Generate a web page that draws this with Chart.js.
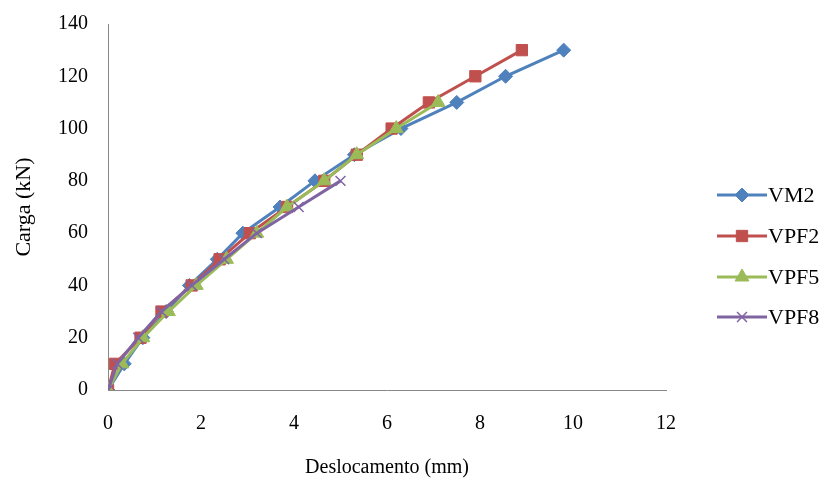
<!DOCTYPE html>
<html lang="pt">
<head>
  <meta charset="UTF-8">
  <title>Carga x Deslocamento</title>
  <script src="https://cdn.jsdelivr.net/npm/chart.js"></script>
  <style>
    body { margin: 0; background: #fff; }
    #chart { display: block; }
  </style>
</head>
<body>
  <canvas id="chart" width="831" height="490"></canvas>

  <script>
    // series data (deslocamento in mm, carga in kN)
    const seriesNames = ['VM2', 'VPF2', 'VPF5', 'VPF8'];

    const deslVM2 = [0, 0.35, 0.75, 1.25, 1.75, 2.35, 2.9, 3.7, 4.45, 5.3, 6.3, 7.5, 8.55, 9.8];
    const cargaVM2 = [0, 10, 20, 30, 40, 50, 60, 70, 80, 90, 100, 110, 120, 130];

    const deslVPF2 = [0, 0.15, 0.7, 1.15, 1.8, 2.4, 3.05, 3.85, 4.65, 5.35, 6.1, 6.9, 7.9, 8.9];
    const cargaVPF2 = [0, 10, 20, 30, 40, 50, 60, 70, 80, 90, 100, 110, 120, 130];

    const deslVPF5 = [0, 0.3, 0.75, 1.3, 1.9, 2.55, 3.2, 3.85, 4.65, 5.35, 6.2, 7.1];
    const cargaVPF5 = [0, 10, 20, 30, 40, 50, 60, 70, 80, 90, 100, 110];

    const deslVPF8 = [0, 0.2, 0.65, 1.15, 1.8, 2.5, 3.2, 4.1, 5.0];
    const cargaVPF8 = [0, 10, 20, 30, 40, 50, 60, 70, 80];

    const xTicks = [0, 2, 4, 6, 8, 10, 12];
    const yTicks = [0, 20, 40, 60, 80, 100, 120, 140];

    const fontFamily = "'Liberation Serif', 'Times New Roman', serif";

    function toPoints(xs, ys) {
      return xs.map((x, i) => ({ x: x, y: ys[i] }));
    }

    function makeDataset(label, xs, ys, color, style, radius, order) {
      return {
        label,
        data: toPoints(xs, ys),
        showLine: true,
        borderColor: color,
        backgroundColor: color,
        borderWidth: 3,
        pointStyle: style,
        pointRadius: radius,
        pointBorderWidth: style === 'crossRot' ? 1.5 : 1,
        pointBorderColor: color,
        pointBackgroundColor: color,
        tension: 0,
        order
      };
    }

    const datasets = [
      makeDataset(seriesNames[0], deslVM2, cargaVM2, '#4F81BD', 'rectRot', 7, 3),
      makeDataset(seriesNames[1], deslVPF2, cargaVPF2, '#C0504D', 'rect', 8, 2),
      makeDataset(seriesNames[2], deslVPF5, cargaVPF5, '#9BBB59', 'triangle', 8, 1),
      makeDataset(seriesNames[3], deslVPF8, cargaVPF8, '#8064A2', 'crossRot', 7, 0)
    ];

    // Excel style legend: line sample with the marker in the middle
    const excelLegend = {
      id: 'excelLegend',
      afterDraw(chart) {
        const ctx = chart.ctx;
        const rowsY = [195, 236, 277, 317];
        ctx.save();
        datasets.forEach((ds, i) => {
          const y = rowsY[i];
          ctx.strokeStyle = ds.borderColor;
          ctx.lineWidth = 3;
          ctx.beginPath();
          ctx.moveTo(717, y);
          ctx.lineTo(767, y);
          ctx.stroke();
          ctx.fillStyle = ds.backgroundColor;
          ctx.lineWidth = ds.pointBorderWidth;
          Chart.helpers.drawPoint(ctx, {
            pointStyle: ds.pointStyle,
            radius: ds.pointRadius,
            rotation: 0,
            borderWidth: ds.pointBorderWidth
          }, 742, y);
          ctx.fillStyle = '#000';
          ctx.font = '22px ' + fontFamily;
          ctx.textBaseline = 'middle';
          ctx.textAlign = 'left';
          ctx.fillText(ds.label, 768, y + 1);
        });
        ctx.restore();
      }
    };

    new Chart(document.getElementById('chart').getContext('2d'), {
      type: 'scatter',
      data: { datasets },
      options: {
        responsive: false,
        animation: false,
        layout: { padding: { top: 8, right: 165, bottom: 0, left: 0 } },
        plugins: {
          legend: { display: false },
          tooltip: { enabled: false }
        },
        scales: {
          x: {
            type: 'linear',
            min: 0,
            max: 12,
            afterFit(scale) { scale.height = 100; },
            afterBuildTicks(scale) { scale.ticks = xTicks.map(v => ({ value: v })); },
            grid: { display: false },
            border: { display: true, color: '#888', width: 1 },
            ticks: { color: '#000', padding: 14, font: { family: fontFamily, size: 20 } },
            title: {
              display: true,
              text: 'Deslocamento (mm)',
              color: '#000',
              font: { family: fontFamily, size: 20 },
              padding: { top: 0, bottom: 10 }
            }
          },
          y: {
            type: 'linear',
            min: 0,
            max: 140,
            afterFit(scale) { scale.width = 108; },
            afterBuildTicks(scale) { scale.ticks = yTicks.map(v => ({ value: v })); },
            grid: { display: false },
            border: { display: true, color: '#888', width: 1 },
            ticks: { color: '#000', padding: 12, font: { family: fontFamily, size: 20 } },
            title: {
              display: true,
              text: 'Carga (kN)',
              color: '#000',
              font: { family: fontFamily, size: 22 },
              padding: { top: 11, bottom: 0 }
            }
          }
        }
      },
      plugins: [excelLegend]
    });
  </script>
</body>
</html>
